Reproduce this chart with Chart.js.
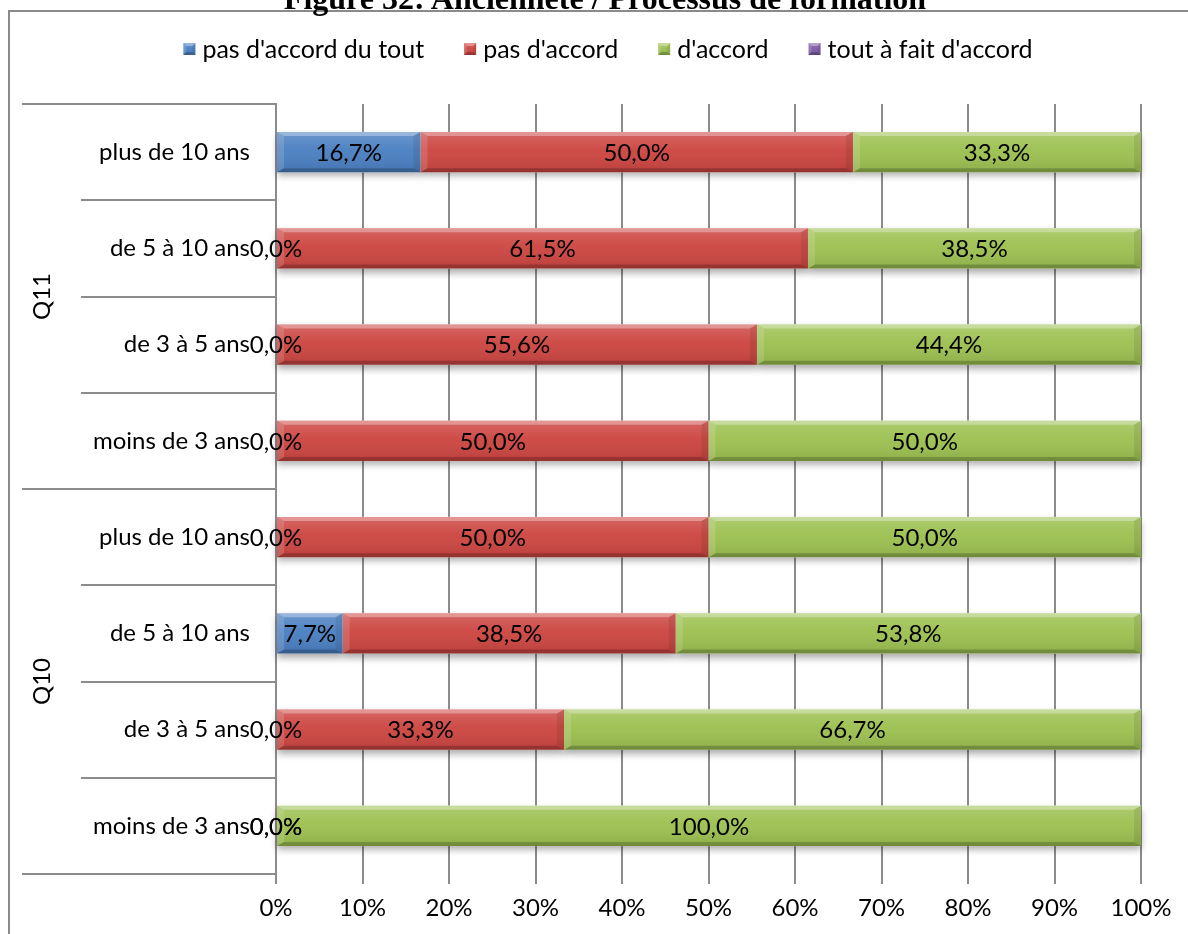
<!DOCTYPE html>
<html lang="fr">
<head>
<meta charset="utf-8">
<title>Ancienneté / Processus de formation</title>
<script src="https://cdn.jsdelivr.net/npm/chart.js@4.4.1/dist/chart.umd.min.js"></script>
<style>
  html, body { margin: 0; padding: 0; background: #fff; overflow: hidden; }
  #wrap { position: relative; width: 1188px; height: 934px; }
  #myChart { position: absolute; left: 0; top: 0; }
  #titre {
    position: absolute; left: 11px; top: -18px; width: 1188px;
    text-align: center; white-space: nowrap; color: #000;
    font: bold 32px/32px "Liberation Serif", "Times New Roman", serif;
  }
</style>
</head>
<body>
<div id="wrap">
  <canvas id="myChart" width="1188" height="934"></canvas>
  <div id="titre">Figure 32: Ancienneté / Processus de formation</div>
</div>
<script>
// questions, chacune sur 4 tranches d'ancienneté (de haut en bas)
const groups = ["Q11", "Q10"];
const categories = [
  "plus de 10 ans", "de 5 à 10 ans", "de 3 à 5 ans", "moins de 3 ans",
  "plus de 10 ans", "de 5 à 10 ans", "de 3 à 5 ans", "moins de 3 ans",
];
const seriesNames = ["pas d'accord du tout", "pas d'accord", "d'accord", "tout à fait d'accord"];
const seriesColors = ["#4a7fc1", "#cc4541", "#9cc050", "#7f5ca8"];

// pourcentages
const pasDuTout = [16.7, 0, 0, 0, 0, 7.7, 0, 0];
const pasDaccord = [50.0, 61.5, 55.6, 50.0, 50.0, 38.5, 33.3, 0];
const daccord = [33.3, 38.5, 44.4, 50.0, 50.0, 53.8, 66.7, 100.0];
const toutAFait = [null, null, null, null, null, null, null, null];

const tickLabels = ["0%", "10%", "20%", "30%", "40%", "50%", "60%", "70%", "80%", "90%", "100%"];

const FONT = "Lato";
const GRID = "#8c8c8c";

const fmt = v => v.toFixed(1).replace(".", ",") + "%";

const poly = (ctx, pts, fill) => {
  ctx.beginPath();
  ctx.moveTo(pts[0][0], pts[0][1]);
  for (let i = 1; i < pts.length; i++) ctx.lineTo(pts[i][0], pts[i][1]);
  ctx.closePath();
  ctx.fillStyle = fill;
  ctx.fill();
};

// relief des barres façon Excel
const drawBevel = (ctx, x0, x1, yT, yB, s = 7, t = 4) => {
  s = Math.min(s, (x1 - x0) / 2);
  const g = ctx.createLinearGradient(0, yT, 0, yB);
  g.addColorStop(0, "rgba(255,255,255,0.18)");
  g.addColorStop(0.45, "rgba(255,255,255,0.04)");
  g.addColorStop(1, "rgba(0,0,0,0.10)");
  ctx.fillStyle = g;
  ctx.fillRect(x0, yT, x1 - x0, yB - yT);
  poly(ctx, [[x0, yT], [x1, yT], [x1 - s, yT + t], [x0 + s, yT + t]], "rgba(255,255,255,0.32)");
  poly(ctx, [[x0, yB], [x1, yB], [x1 - s, yB - t], [x0 + s, yB - t]], "rgba(0,0,0,0.20)");
  poly(ctx, [[x0, yT], [x0 + s, yT + t], [x0 + s, yB - t], [x0, yB]], "rgba(255,255,255,0.14)");
  poly(ctx, [[x1, yT], [x1 - s, yT + t], [x1 - s, yB - t], [x1, yB]], "rgba(0,0,0,0.08)");
};

const eachBar = (chart, fn) => {
  chart.data.datasets.forEach((ds, di) => {
    const meta = chart.getDatasetMeta(di);
    if (meta.hidden) return;
    meta.data.forEach((bar, i) => {
      const v = ds.data[i];
      if (v === null || v === undefined) return;
      const p = bar.getProps(["x", "y", "base", "height"], true);
      fn(p, v, di, i);
    });
  });
};

const barStyle = {
  id: "barStyle",
  beforeDraw(chart) {
    const ctx = chart.ctx;
    ctx.save();
    ctx.fillStyle = "#fff";
    ctx.fillRect(0, 0, chart.width, chart.height);
    // cadre
    ctx.strokeStyle = "#8a8a8a";
    ctx.lineWidth = 2;
    ctx.strokeRect(9, 11, 1400, 1200);
    ctx.restore();
  },
  beforeDatasetsDraw(chart) {
    const ctx = chart.ctx;
    ctx.save();
    ctx.shadowColor = "rgba(0,0,0,0.33)";
    ctx.shadowBlur = 7;
    ctx.shadowOffsetY = 4;
    ctx.fillStyle = "#fff";
    eachBar(chart, (p, v) => {
      if (!v) return;
      ctx.fillRect(Math.min(p.x, p.base), p.y - p.height / 2, Math.abs(p.x - p.base), p.height);
    });
    ctx.restore();
  },
  afterDatasetsDraw(chart) {
    const ctx = chart.ctx;
    ctx.save();
    eachBar(chart, (p, v) => {
      if (!v) return;
      drawBevel(ctx, Math.min(p.x, p.base), Math.max(p.x, p.base), p.y - p.height / 2, p.y + p.height / 2);
    });
    // étiquettes de valeurs
    ctx.fillStyle = "#000";
    ctx.font = `24px ${FONT}`;
    ctx.textAlign = "center";
    ctx.textBaseline = "middle";
    eachBar(chart, (p, v) => {
      ctx.fillText(fmt(v), (p.x + p.base) / 2, p.y + 1);
    });
    ctx.restore();
  },
};

// lignes de séparation de l'axe des catégories + libellés Q11 / Q10
const groupAxis = {
  id: "groupAxis",
  afterDraw(chart) {
    const { ctx, chartArea, scales: { y } } = chart;
    const per = categories.length / groups.length;
    ctx.save();
    ctx.strokeStyle = GRID;
    ctx.lineWidth = 2;
    for (let i = 0; i <= categories.length; i++) {
      const yy = Math.round(y.getPixelForValue(i - 0.5));
      const x0 = i % per === 0 ? 22 : 81;
      ctx.beginPath();
      ctx.moveTo(x0, yy);
      ctx.lineTo(chartArea.left, yy);
      ctx.stroke();
    }
    ctx.fillStyle = "#000";
    ctx.font = `24px ${FONT}`;
    ctx.textAlign = "center";
    ctx.textBaseline = "middle";
    groups.forEach((g, gi) => {
      const top = y.getPixelForValue(gi * per - 0.5);
      const bot = y.getPixelForValue((gi + 1) * per - 0.5);
      ctx.save();
      ctx.translate(42, (top + bot) / 2);
      ctx.rotate(-Math.PI / 2);
      ctx.fillText(g, 0, 0);
      ctx.restore();
    });
    ctx.restore();
  },
};

// légende en haut
const topLegend = {
  id: "topLegend",
  afterDraw(chart) {
    const ctx = chart.ctx;
    ctx.save();
    ctx.font = `25px ${FONT}`;
    ctx.textBaseline = "middle";
    ctx.textAlign = "left";
    const box = 12, gap = 7, spacing = 40;
    const widths = seriesNames.map(n => box + gap + ctx.measureText(n).width);
    const total = widths.reduce((a, b) => a + b, 0) + spacing * (widths.length - 1);
    let x = 608 - total / 2;
    const cy = 49;
    seriesNames.forEach((n, i) => {
      ctx.fillStyle = seriesColors[i];
      ctx.fillRect(x, cy - box / 2, box, box);
      drawBevel(ctx, x, x + box, cy - box / 2, cy + box / 2, 3, 3);
      ctx.fillStyle = "#000";
      ctx.fillText(n, x + box + gap, cy + 1);
      x += widths[i] + spacing;
    });
    ctx.restore();
  },
};

Chart.defaults.font.family = FONT;
Chart.defaults.font.size = 24;
Chart.defaults.color = "#000";

const ctx = document.getElementById("myChart").getContext("2d");
const myChart = new Chart(ctx, {
  type: "bar",
  data: {
    labels: categories,
    datasets: [
      { label: seriesNames[0], data: pasDuTout, backgroundColor: seriesColors[0] },
      { label: seriesNames[1], data: pasDaccord, backgroundColor: seriesColors[1] },
      { label: seriesNames[2], data: daccord, backgroundColor: seriesColors[2] },
      { label: seriesNames[3], data: toutAFait, backgroundColor: seriesColors[3] },
    ],
  },
  options: {
    indexAxis: "y",
    responsive: false,
    animation: false,
    categoryPercentage: 1,
    barPercentage: 0.42,
    layout: { padding: { top: 104, left: 9, right: 47, bottom: 0 } },
    scales: {
      x: {
        stacked: true,
        min: 0,
        max: 100,
        grid: { color: GRID, lineWidth: 2, tickLength: 10 },
        border: { display: false },
        ticks: {
          stepSize: 10,
          padding: 10,
          maxRotation: 0,
          callback: (v, i) => tickLabels[i],
        },
        afterFit: s => { s.height = 60; },
      },
      y: {
        stacked: true,
        grid: { display: false, drawTicks: false },
        border: { display: true, color: GRID, width: 2 },
        ticks: { padding: 26, autoSkip: false },
        afterFit: s => { s.width = 267; },
      },
    },
    plugins: {
      legend: { display: false },
      title: { display: false },
      tooltip: { enabled: false },
    },
  },
  plugins: [barStyle, groupAxis, topLegend],
});
</script>
</body>
</html>
